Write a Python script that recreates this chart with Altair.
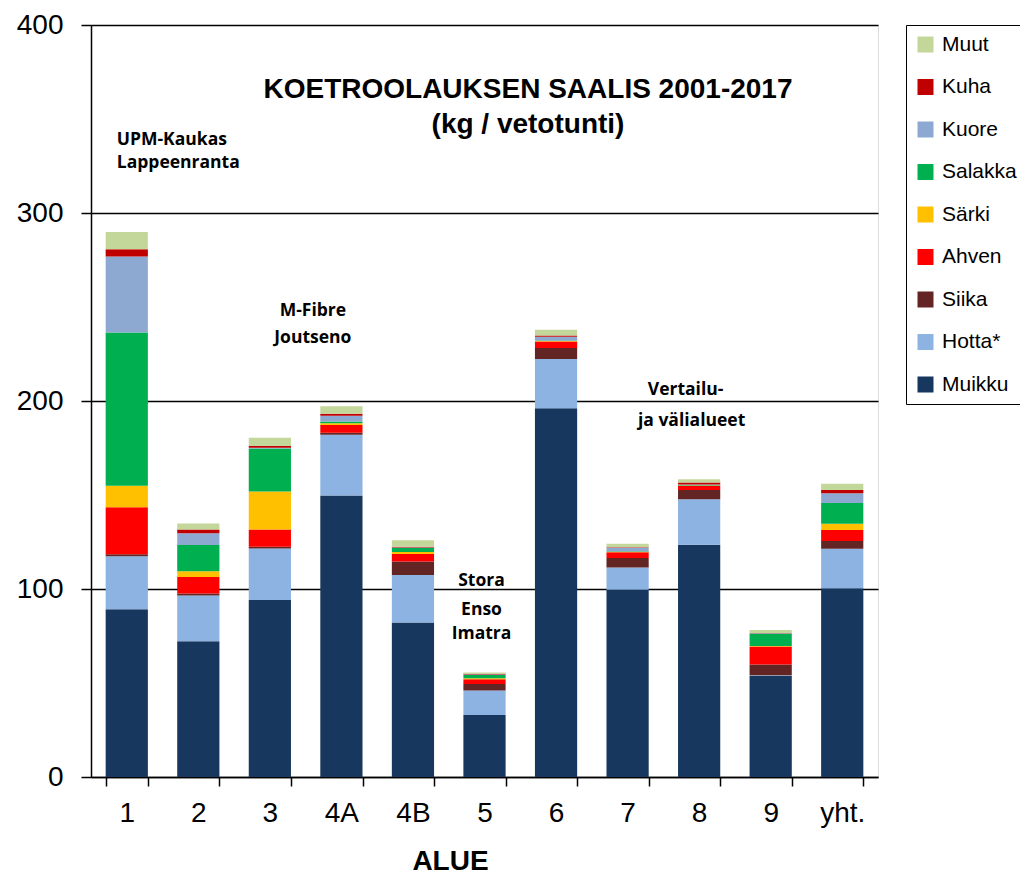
import altair as alt
import pandas as pd

alue = ["1", "2", "3", "4A", "4B", "5", "6", "7", "8", "9", "yht."]

muikku = [89.2, 72.2, 94.2, 149.7, 82.2, 33.0, 196.2, 99.6, 123.5, 53.8, 100.4]
hotta = [28.2, 24.3, 27.3, 32.3, 25.3, 13.0, 26.2, 11.9, 24.2, 0.3, 21.0]
siika = [1.1, 1.1, 1.0, 1.1, 7.1, 3.5, 5.8, 5.0, 5.0, 5.7, 4.1]
ahven = [25.0, 8.8, 9.1, 4.2, 4.0, 2.5, 3.4, 3.0, 2.2, 9.6, 5.9]
sarki = [11.4, 3.0, 20.2, 0.9, 1.1, 0.5, 0.3, 0.3, 0.2, 0.3, 3.3]
salakka = [81.5, 14.0, 23.0, 0.9, 2.1, 1.7, 0.3, 0.3, 0.2, 6.5, 11.0]
kuore = [40.5, 6.2, 0.3, 3.0, 0.3, 0.3, 2.0, 1.8, 0.3, 0.2, 5.2]
kuha = [3.8, 2.1, 1.0, 1.1, 0.4, 0.4, 0.7, 0.3, 1.0, 0.2, 1.7]
muut = [9.2, 3.1, 4.4, 4.0, 3.4, 0.7, 3.0, 1.9, 1.8, 1.6, 3.4]

lajit_pinosta = ["Muikku", "Hotta*", "Siika", "Ahven", "Särki", "Salakka", "Kuore", "Kuha", "Muut"]
sarjat = [muikku, hotta, siika, ahven, sarki, salakka, kuore, kuha, muut]
legend_order = ["Muut", "Kuha", "Kuore", "Salakka", "Särki", "Ahven", "Siika", "Hotta*", "Muikku"]
colors = ["#C4D79B", "#C00000", "#8EA9D1", "#00B050", "#FFC000", "#FF0000", "#632523", "#8DB3E2", "#17375E"]

title_lines = ["KOETROOLAUKSEN SAALIS 2001-2017", "(kg / vetotunti)"]
title_y = [65, 100]

rows = []
for j, (laji, vals) in enumerate(zip(lajit_pinosta, sarjat)):
    for a, v in zip(alue, vals):
        rows.append({"alue": a, "laji": laji, "arvo": v, "jarj": j})
df = pd.DataFrame(rows)

FONT = "Liberation Sans"
ANN_FONT = "Open Sans"

bars = alt.Chart(df).mark_bar().encode(
    x=alt.X("alue:N", sort=alue,
            scale=alt.Scale(paddingInner=0.41, paddingOuter=0.205),
            axis=alt.Axis(title="ALUE", labelAngle=0, tickBand="extent",
                          labelFont=FONT, labelFontSize=28, labelColor="black",
                          labelPadding=13, tickSize=9, tickColor="black",
                          domainColor="black", domainWidth=1.5, tickWidth=1.5,
                          titleFont=FONT, titleFontSize=28, titleFontWeight="bold",
                          titleColor="black", titlePadding=20, titleX=359,
                          titleAlign="center")),
    y=alt.Y("arvo:Q", stack="zero",
            scale=alt.Scale(domain=[0, 400], nice=False),
            axis=alt.Axis(title=None, values=[0, 100, 200, 300, 400], grid=True,
                          gridColor="black", gridWidth=1.5, gridOpacity=1,
                          labelFont=FONT, labelFontSize=28, labelColor="black",
                          labelPadding=18, tickSize=10, tickColor="black", tickWidth=1.5,
                          domainColor="black", domainWidth=1.5)),
    color=alt.Color("laji:N",
                    scale=alt.Scale(domain=legend_order, range=colors),
                    legend=alt.Legend(title=None, orient="none", legendX=815, legendY=0,
                                      strokeColor="black", fillColor="white",
                                      padding=9, symbolType="square", symbolSize=256,
                                      symbolStrokeWidth=0, labelFont=FONT, labelFontSize=21,
                                      labelColor="black", labelOffset=6, rowPadding=20.5,
                                      labelLimit=200)),
    order=alt.Order("jarj:Q", sort="ascending"),
)

title_df = pd.DataFrame({"t": title_lines, "yy": title_y})
title = alt.Chart(title_df).mark_text(font=FONT, fontSize=28, fontWeight="bold",
                                      color="black", align="center", baseline="middle").encode(
    x=alt.value(437), y=alt.Y("yy:Q", scale=None), text="t:N")


def ann(lines, ys, cat, dx, align):
    d = pd.DataFrame({"t": lines, "v": ys, "alue": [cat] * len(lines)})
    return alt.Chart(d).mark_text(font=ANN_FONT, fontSize=17.5, fontWeight="bold",
                                  color="black", align=align, baseline="middle", dx=dx).encode(
        x=alt.X("alue:N", sort=alue), y=alt.Y("v:Q"), text="t:N")


a1 = ann(["UPM-Kaukas", "Lappeenranta"], [338.9, 326.6], "1", -10, "left")
a2 = ann(["M-Fibre", "Joutseno"], [248, 233.6], "3", 43, "center")
a3 = ann(["Stora", "Enso", "Imatra"], [104, 89, 75.8], "5", -3, "center")
a4 = ann(["Vertailu-"], [205.6], "7", 58, "center")
a5 = ann(["ja välialueet"], [189.6], "7", 64, "center")

chart = alt.layer(bars, title, a1, a2, a3, a4, a5).properties(
    width=787, height=752,
    autosize=alt.AutoSizeParams(type="none"),
    padding={"left": 83, "top": 17, "right": 142, "bottom": 101},
).configure_view(stroke="black", strokeWidth=1.5).configure_legend(
    strokeWidth=2
).configure(background="white")

chart.save("out.html", embed_options={"renderer": "svg", "actions": False})
